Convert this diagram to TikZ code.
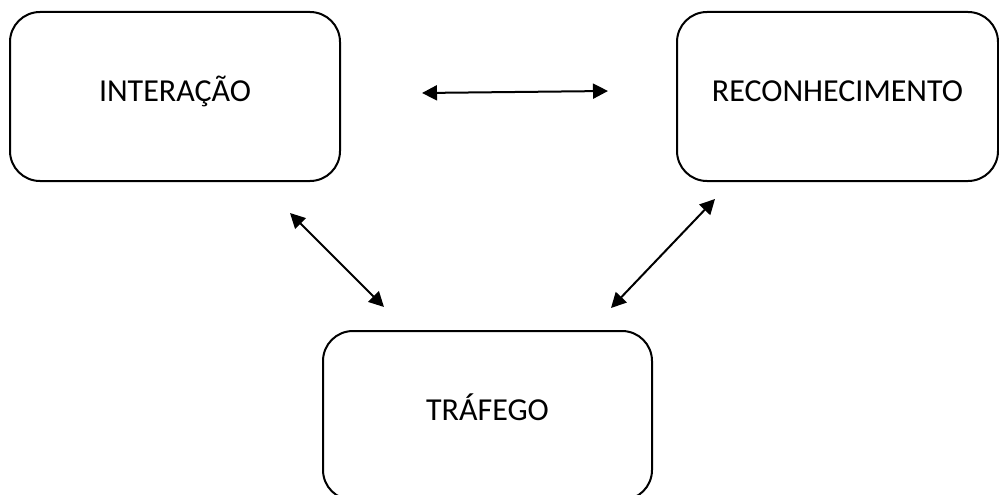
\documentclass[tikz,border=0pt]{standalone}
\usepackage{fontspec}
\setmainfont{Carlito}
\usetikzlibrary{arrows.meta}
\begin{document}
\begin{tikzpicture}[x=1pt,y=-1pt,
  box/.style={draw=black,line width=2pt,rounded corners=30pt,inner sep=0pt},
  lbl/.style={anchor=base,inner sep=0pt,font=\fontsize{32}{38}\selectfont},
  link/.style={line width=2pt,{Triangle[length=15pt,width=15pt]}-{Triangle[length=15pt,width=15pt]}}]
\useasboundingbox (0,0) rectangle (999,495);
\node[box,minimum width=330pt,minimum height=169pt] (int) at (175,96.5) {};
\node[box,minimum width=321pt,minimum height=169pt] (rec) at (837.5,96.5) {};
\node[box,minimum width=329pt,minimum height=169pt] (tra) at (487.5,415.5) {};
\node[lbl] (intl) at (175,102) {INTERAÇÃO};
\node[lbl] (recl) at (837.5,102) {RECONHECIMENTO};
\node[lbl] (tral) at (487.5,420) {TRÁFEGO};
\coordinate (h1) at (422,93);
\coordinate (h2) at (608,91);
\coordinate (l1) at (290,213);
\coordinate (l2) at (384,307);
\coordinate (r1) at (715,199);
\coordinate (r2) at (611,308);
\draw[link] (h1) -- (h2);
\draw[link] (l1) -- (l2);
\draw[link] (r1) -- (r2);
\end{tikzpicture}
\end{document}
